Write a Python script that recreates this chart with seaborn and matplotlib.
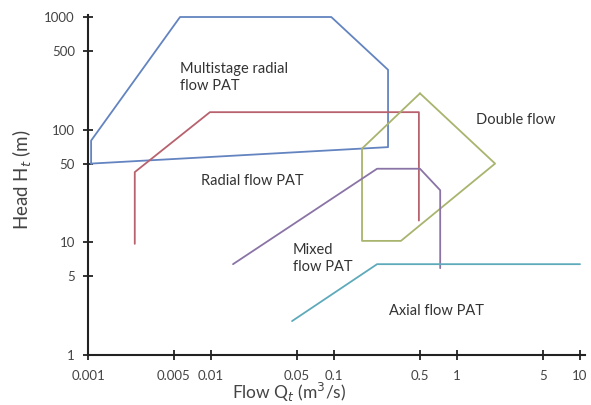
import numpy as np
import pandas as pd
import matplotlib
matplotlib.use("Agg")
import matplotlib.pyplot as plt
import seaborn as sns

# outline of each PAT application range (flow in m3/s, head in m)
multistage_q = [0.00106, 0.00106, 0.0056, 0.095, 0.275, 0.275, 0.00106]
multistage_h = [50, 80, 1000, 1000, 340, 70, 50]

radial_q = [0.0024, 0.0024, 0.0098, 0.49, 0.49]
radial_h = [9.7, 42, 143, 143, 15.6]

double_q = [0.5, 2.04, 0.35, 0.169, 0.169, 0.5]
double_h = [210, 50, 10.3, 10.3, 68, 210]

mixed_q = [0.0151, 0.224, 0.5, 0.73, 0.73]
mixed_h = [6.4, 45, 45, 29, 5.9]

axial_q = [0.0456, 0.224, 10]
axial_h = [2.0, 6.4, 6.4]

x_ticks = [0.001, 0.005, 0.01, 0.05, 0.1, 0.5, 1, 5, 10]
x_labels = ["0.001", "0.005", "0.01", "0.05", "0.1", "0.5", "1", "5", "10"]
y_ticks = [1, 5, 10, 50, 100, 500, 1000]
y_labels = ["1", "5", "10", "50", "100", "500", "1000"]

shapes = {
    "Multistage": (multistage_q, multistage_h),
    "Radial": (radial_q, radial_h),
    "Double": (double_q, double_h),
    "Mixed": (mixed_q, mixed_h),
    "Axial": (axial_q, axial_h),
}
colors = {
    "Multistage": "#6384c0",
    "Radial": "#b8626e",
    "Double": "#a9b46e",
    "Mixed": "#8a74a6",
    "Axial": "#5eaabb",
}

rows = []
for name, (q, h) in shapes.items():
    for i, (a, b) in enumerate(zip(q, h)):
        rows.append({"shape": name, "order": i, "Q": a, "H": b})
df = pd.DataFrame(rows)

sns.set_style("ticks")
plt.rcParams["font.family"] = ["Lato", "DejaVu Sans"]

fig = plt.figure(figsize=(5.91, 4.05), dpi=100)
ax = fig.add_axes([88 / 591, 1 - 355 / 405, 497 / 591, 340 / 405])

for name in shapes:
    sub = df[df["shape"] == name]
    sns.lineplot(data=sub, x="Q", y="H", sort=False, estimator=None,
                 color=colors[name], linewidth=1.3, ax=ax, legend=False)

ax.set_xscale("log")
ax.set_yscale("log")
ax.set_xlim(0.001, 10 ** (1 + 5 / 123))
ax.set_ylim(1, 1000 * 10 ** (2 / 112.3))
ax.set_xticks(x_ticks)
ax.set_xticklabels(x_labels)
ax.set_yticks(y_ticks)
ax.set_yticklabels(y_labels)
ax.minorticks_off()
ax.tick_params(axis="both", direction="inout", length=7, width=1.3,
               labelsize=9.5, colors="#222222", labelcolor="#444444")
ax.tick_params(axis="x", pad=7)
ax.tick_params(axis="y", pad=6)
for side in ["top", "right"]:
    ax.spines[side].set_visible(False)
for side in ["left", "bottom"]:
    ax.spines[side].set_linewidth(1.5)
    ax.spines[side].set_color("#222222")

ax.set_xlabel("Flow Q$_t$ (m$^3$/s)", fontsize=12.5, color="#444444")
ax.set_ylabel("Head H$_t$ (m)", fontsize=13.5, color="#444444")
ax.xaxis.label.set_va("center")
ax.yaxis.label.set_va("center")
ax.xaxis.set_label_coords((289 - 88) / 497, (355 - 392) / 340)
ax.yaxis.set_label_coords((22 - 88) / 497, (355 - 180) / 340)

txt = dict(fontsize=10.5, color="#333333")
ax.text(0.0056, 292, "Multistage radial\nflow PAT", ha="left", va="center",
        linespacing=1.25, **txt)
ax.text(0.0216, 35.3, "Radial flow PAT", ha="center", va="center", **txt)
ax.text(3.0, 121, "Double flow", ha="center", va="center", **txt)
ax.text(0.046, 7.2, "Mixed\nflow PAT", ha="left", va="center",
        linespacing=1.3, **txt)
ax.text(0.68, 2.45, "Axial flow PAT", ha="center", va="center", **txt)

fig.savefig("out.png", dpi=100)
